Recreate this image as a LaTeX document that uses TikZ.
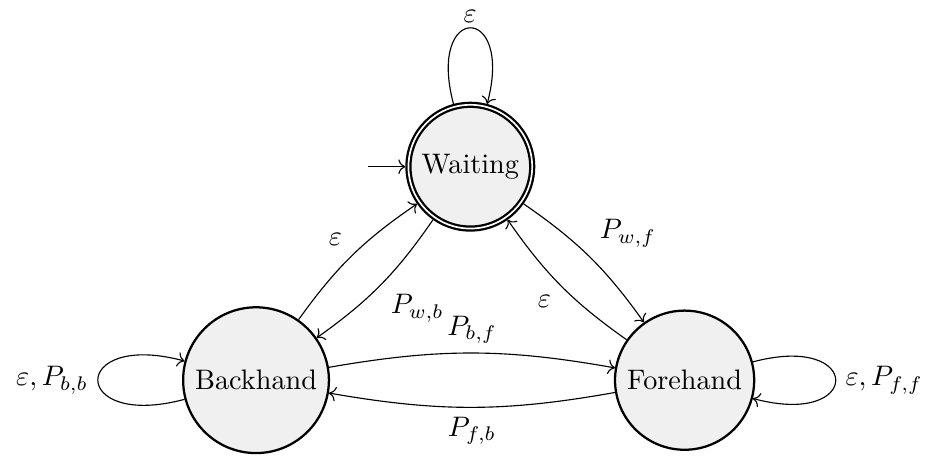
\documentclass[tikz,border=0pt]{standalone}
\usepackage{amsmath,amssymb}
\usepackage{tikz}
\usetikzlibrary{arrows.meta,positioning,calc}
\usepackage{xcolor}
\definecolor{stfill}{HTML}{F0F0F0}

\begin{document}
\begin{tikzpicture}[
    on grid,
    st/.style={draw,circle,thick,fill=stfill},
    acc/.style={st,double,outer sep=1.1pt},
    tr/.style={->,auto},
    lbl/.style={inner sep=3.33pt}
]
\useasboundingbox (-5.86,-3.655) rectangle (5.715,2.077);

\node[acc] (W) at (0,0) {Waiting};
\node[st,below left=2.66cm and 2.67cm of W] (B) {Backhand};
\node[st,right=5.34cm of B] (F) {Forehand};
\coordinate[left=0.46cm of W.west] (Win);

\draw[tr] (Win) -- (W);
\draw[tr] (W) to[loop above] node[lbl,above,inner sep=1.6pt] {$\varepsilon$} (W);
\draw[tr] (B) to[loop left] node[lbl,left] {$\varepsilon,P_{b,b}$} (B);
\draw[tr] (F) to[loop right] node[lbl,right] {$\varepsilon,P_{f,f}$} (F);

\draw[tr] (B) to[bend left=10] node[lbl] {$\varepsilon$} (W);
\draw[tr] (W) to[bend left=10] node[lbl] {$P_{w,b}$} (B);
\draw[tr] (W) to[bend left=10] node[lbl] {$P_{w,f}$} (F);
\draw[tr] (F) to[bend left=10] node[lbl] {$\varepsilon$} (W);
\draw[tr] (B) to[bend left=10] node[lbl] {$P_{b,f}$} (F);
\draw[tr] (F) to[bend left=10] node[lbl] {$P_{f,b}$} (B);

\end{tikzpicture}
\end{document}
